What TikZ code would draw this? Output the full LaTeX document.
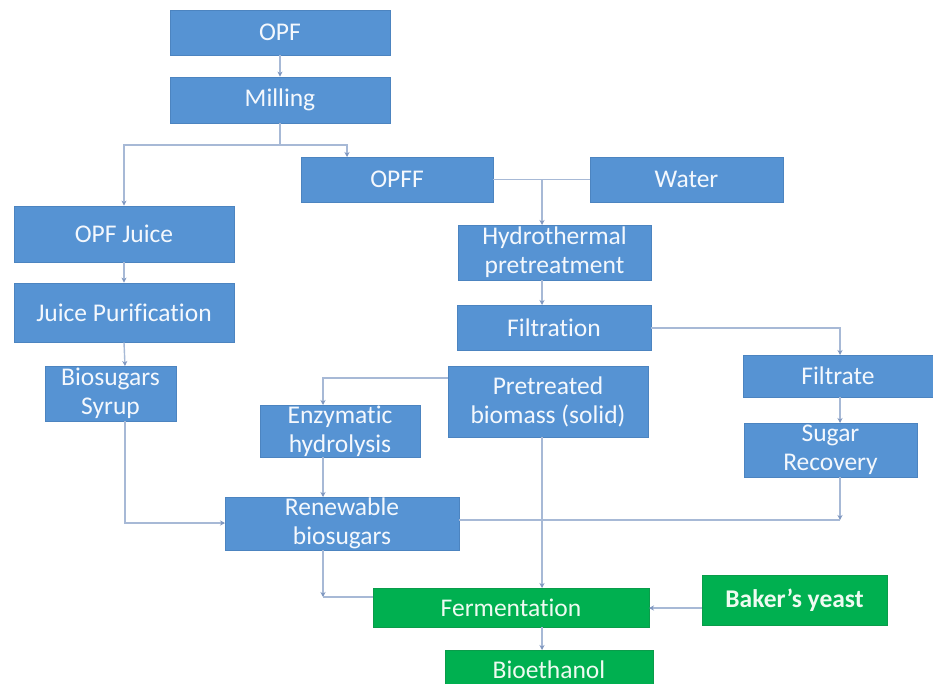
\documentclass[tikz,border=0pt]{standalone}
\usepackage{fontspec}
\setmainfont{Carlito}[Ligatures=CommonOff]
\usetikzlibrary{arrows.meta}
\definecolor{bluebox}{HTML}{5693D3}
\definecolor{blueedge}{HTML}{4C84C0}
\definecolor{greenbox}{HTML}{00B050}
\definecolor{greenedge}{HTML}{0A9C4A}
\definecolor{linkcol}{HTML}{A7B9D6}
\definecolor{tipcol}{HTML}{7F97C0}
\definecolor{labelcol}{HTML}{F4F8FD}
\definecolor{glabelcol}{HTML}{EEFBF1}
\begin{document}
\begin{tikzpicture}[x=1pt,y=-1pt,
  bbox/.style={draw=blueedge, line width=0.8pt, fill=bluebox, text=labelcol,
    inner sep=0pt, align=center, font=\fontsize{25.5}{29}\selectfont},
  gbox/.style={bbox, draw=greenedge, fill=greenbox, text=glabelcol},
  link/.style={draw=linkcol, line width=1.4pt},
  arr/.style={link, -{Stealth[length=5pt,width=5pt,color=tipcol]}}]
\clip (0,0) rectangle (933,684);
\fill[white] (0,0) rectangle (933,684);

% process boxes
\node[bbox, minimum width=220pt, minimum height=45pt] (opf) at (280,32.5) {OPF};
\node[bbox, minimum width=220pt, minimum height=46pt] (mill) at (280,100) {Milling};
\node[bbox, minimum width=192pt, minimum height=45pt] (opff) at (397,179.5) {OPFF};
\node[bbox, minimum width=193pt, minimum height=45pt] (water) at (686.5,179.5) {Water};
\node[bbox, minimum width=220pt, minimum height=56pt] (juice) at (124,234) {OPF Juice};
\node[bbox, minimum width=220pt, minimum height=59pt] (purif) at (124,312.5) {Juice Purification};
\node[bbox, minimum width=131pt, minimum height=55pt] (syrup) at (110.5,393.5) {Biosugars\\Syrup};
\node[bbox, minimum width=193pt, minimum height=55pt] (hydro) at (554.5,252.5) {Hydrothermal\\pretreatment};
\node[bbox, minimum width=194pt, minimum height=45pt] (filt) at (554,327.5) {Filtration};
\node[bbox, minimum width=200pt, minimum height=71pt] (solid) at (548,401.5) {Pretreated\\biomass (solid)};
\node[bbox, minimum width=190pt, minimum height=42pt] (filtrate) at (838,376) {Filtrate};
\node[bbox, minimum width=160pt, minimum height=52pt] (enz) at (340,431) {Enzymatic\\hydrolysis};
\node[bbox, minimum width=173pt, minimum height=54pt] (recov) at (830.5,450) {Sugar\\Recovery};
\node[bbox, minimum width=234pt, minimum height=53pt] (renew) at (342,523.5) {Renewable\\biosugars};
\node[gbox, minimum width=276pt, minimum height=39pt] (ferm) at (511,607.5) {Fermentation};
\node[gbox, minimum width=185pt, minimum height=50pt, font=\fontsize{25.5}{29}\selectfont\bfseries] (yeast) at (794.5,600) {Baker’s yeast};
\node[gbox, minimum width=208pt, minimum height=40pt] (ethanol) at (549,670) {Bioethanol};

% junction and entry points
\coordinate (msplit) at (280,145);
\coordinate (opffin) at (347,157);
\coordinate (wsplit) at (542,179.5);
\coordinate (hydroin) at (542,225);
\coordinate (filtout) at (542,305);
\coordinate (filtrin) at (840,355);
\coordinate (filtrout) at (840,397);
\coordinate (recovin) at (840,423);
\coordinate (recovend) at (840,520);
\coordinate (solidout) at (448,378);
\coordinate (enzin) at (323,405);
\coordinate (enzout) at (323,457);
\coordinate (renewin) at (323,497);
\coordinate (renewout) at (323,550);
\coordinate (renewcorner) at (323,597);
\coordinate (syrupin) at (125,366);
\coordinate (syrupout) at (125,421);
\coordinate (renewleft) at (225,523);
\coordinate (solidbot) at (542,437);
\coordinate (fermtop) at (542,588);
\coordinate (fermbot) at (542,627);
\coordinate (ethtop) at (542,650);
\coordinate (yeastout) at (702,608);
\coordinate (fermin) at (649,608);

% connectors
\draw[arr] (opf.south) -- (mill.north);
\draw[link] (mill.south) -- (msplit);
\draw[arr] (msplit) -| (juice.north);
\draw[arr] (msplit) -| (opffin);
\draw[arr] (juice.south) -- (purif.north);
\draw[arr] (purif.south) -- (syrupin);
\draw[link] (opff.east) -- (water.west);
\draw[arr] (wsplit) -- (hydroin);
\draw[arr] (hydro.south -| hydroin) -- (filtout);
\draw[arr] (filt.east |- 0,328) -| (filtrin);
\draw[arr] (filtrout) -- (recovin);
\draw[arr] (recov.south -| recovend) -- (recovend);
\draw[link] (renew.east |- recovend) -- (recovend);
\draw[arr] (solidout) -| (enzin);
\draw[arr] (enzout) -- (renewin);
\draw[arr] (syrupout) |- (renewleft);
\draw[arr] (renewout) -- (renewcorner);
\draw[link] (renewcorner) -- (ferm.west |- renewcorner);
\draw[arr] (solidbot) -- (fermtop);
\draw[arr] (yeastout) -- (fermin);
\draw[arr] (fermbot) -- (ethtop);
\end{tikzpicture}
\end{document}
